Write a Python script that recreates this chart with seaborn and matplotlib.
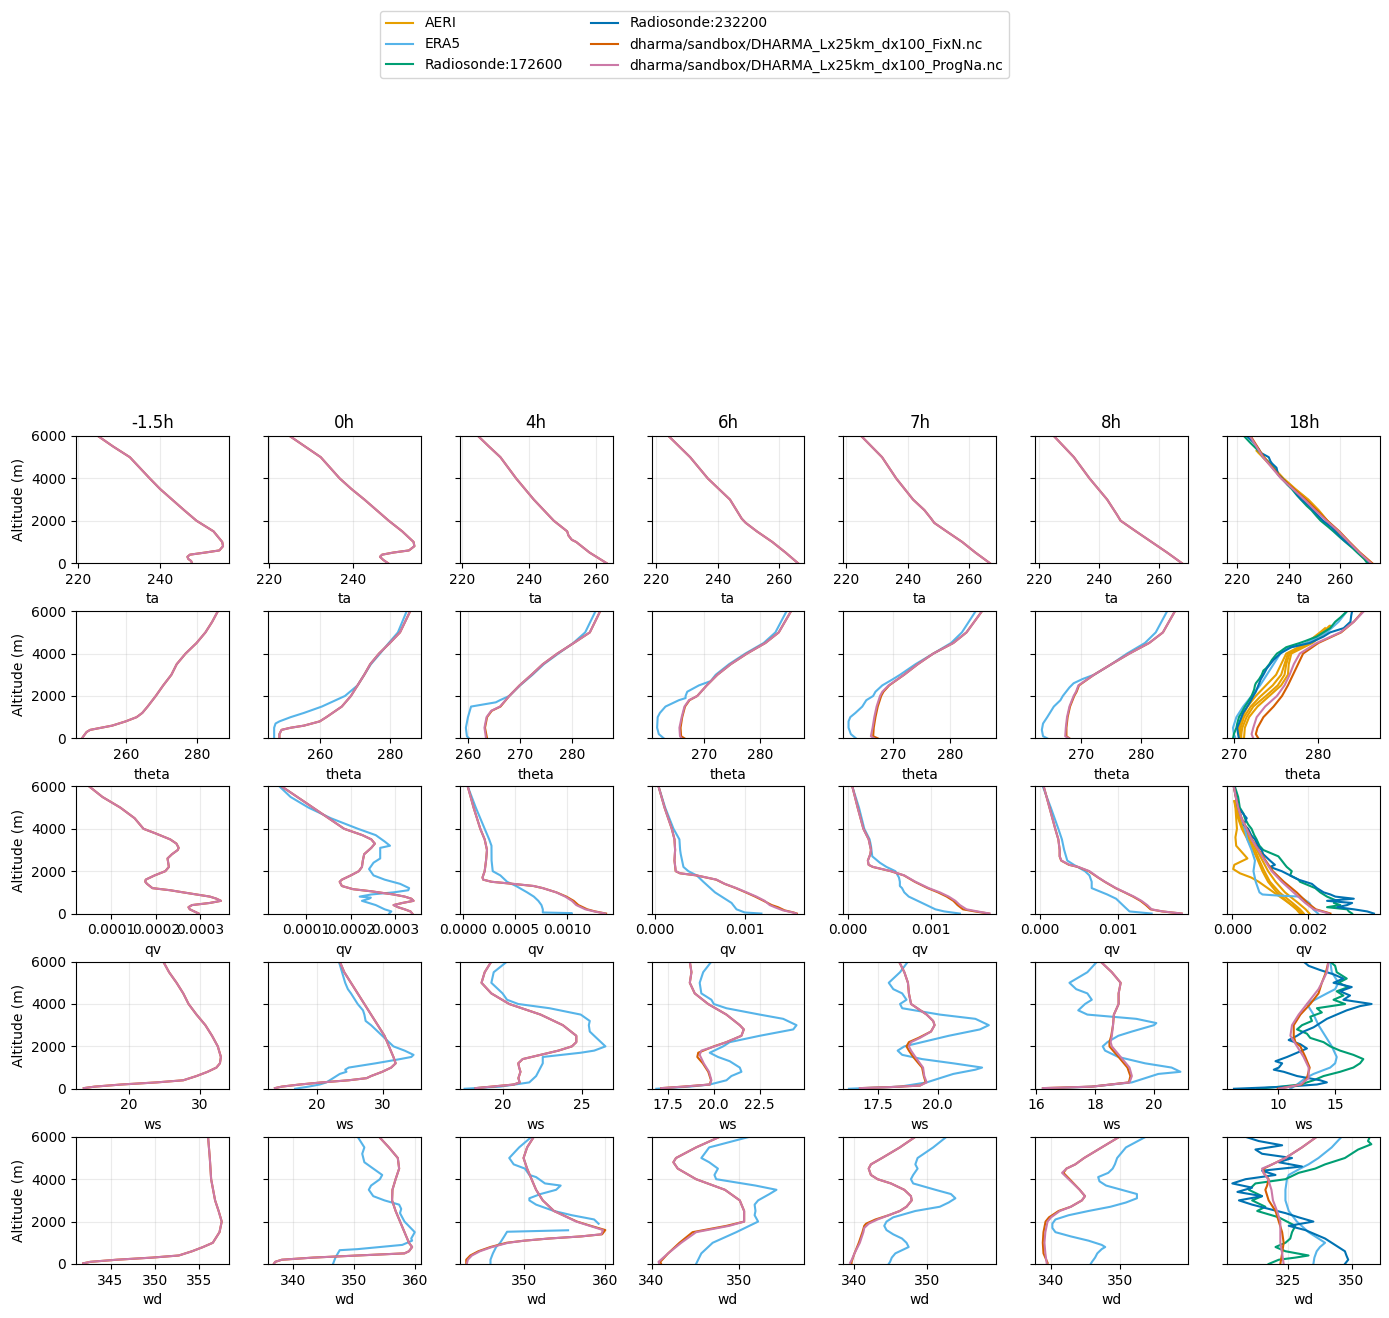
import numpy as np
import pandas as pd
import matplotlib
matplotlib.use("Agg")
import matplotlib.pyplot as plt
from matplotlib.lines import Line2D
import seaborn as sns

times = ["-1.5h", "0h", "4h", "6h", "7h", "8h", "18h"]
variables = ["ta", "theta", "qv", "ws", "wd"]
sources = ["AERI", "ERA5", "Radiosonde:172600", "Radiosonde:232200",
           "dharma/sandbox/DHARMA_Lx25km_dx100_FixN.nc",
           "dharma/sandbox/DHARMA_Lx25km_dx100_ProgNa.nc"]
colors = ["#E69F00", "#56B4E9", "#009E73", "#0072B2", "#D55E00", "#CC79A7"]

# x-limits (one per time column)
ta_xlim = [(219.6, 256.5), (219.7, 256.1), (219.2, 265.0), (218.6, 268.1),
           (219.0, 268.8), (218.8, 269.8), (216.2, 275.3)]
theta_xlim = [(245.9, 289.0), (245.1, 288.7), (258.3, 287.9), (260.6, 288.0),
              (261.3, 288.0), (262.3, 287.8), (269.2, 287.3)]
qv_xlim = [(0.0000204, 0.0003637), (0.0000136, 0.000357), (-0.00003, 0.001432),
           (-0.000041, 0.001665), (-0.0000535, 0.001786), (-0.0000629, 0.001903),
           (-0.000142, 0.003929)]
ws_xlim = [(12.5, 34.06), (12.52, 35.78), (17.29, 26.95), (16.6, 24.95),
           (16.07, 22.44), (15.97, 21.16), (5.58, 18.91)]
wd_xlim = [(341.08, 358.42), (335.8, 360.9), (341.99, 360.9), (340.0, 357.5),
           (338.47, 359.57), (337.7, 359.95), (301.05, 361.2)]

# ---- profiles: {time: [[(altitude, value), ...], ...]} ----
ta_prog = {
    "-1.5h": [[(6000, 224.9), (5500, 228.6), (5000, 232.6), (4000, 237.4), (3500, 239.9), (3000, 242.8),
               (2500, 245.7), (2000, 248.7), (1500, 252.8), (1000, 254.9), (800, 255.1), (600, 254.2),
               (500, 250.8), (400, 247.1), (300, 246.5), (200, 246.7), (100, 247.4), (0, 247.6)]],
    "0h": [[(6000, 224.9), (5500, 228.6), (5000, 232.3), (4000, 236.8), (3500, 239.6), (3000, 242.7),
            (2500, 245.6), (2000, 248.5), (1500, 251.7), (1000, 254.4), (800, 254.6), (600, 253.3),
            (500, 249.6), (400, 246.9), (300, 246.4), (150, 247.2), (0, 248.3)]],
    "4h": [[(6000, 224.7), (5500, 228.0), (5000, 231.4), (4000, 236.1), (3000, 241.4), (2000, 247.4),
            (1500, 251.4), (1300, 251.8), (1100, 252.8), (1000, 254.1), (500, 258.1), (0, 263.2)]],
    "6h": [[(6000, 224.1), (5000, 231.1), (4000, 236.8), (3000, 244.0), (2100, 247.8), (1900, 249.1),
            (1500, 252.7), (1000, 257.7), (500, 262.0), (0, 266.0)]],
    "7h": [[(6000, 224.8), (5000, 231.6), (4000, 236.2), (3000, 241.7), (2500, 245.4), (2100, 247.6),
            (1900, 248.6), (1500, 252.6), (1000, 257.7), (500, 262.0), (0, 266.7)]],
    "8h": [[(6000, 225.0), (5000, 231.7), (4000, 236.9), (3000, 242.8), (2300, 246.0), (2000, 247.3),
            (1500, 252.4), (1000, 257.6), (500, 262.8), (0, 267.7)]],
    "18h": [[(6000, 225.0), (5000, 230.1), (4000, 237.0), (3500, 241.6), (3000, 246.1), (2500, 250.2),
             (2000, 254.6), (1500, 259.3), (1000, 263.2), (500, 267.3), (0, 271.8)]],
}
ta_fixn = {t: ta_prog[t] for t in times[:-1]}
ta_fixn["18h"] = [[(6000, 225.3), (5000, 230.4), (4000, 237.3), (3500, 242.0), (3000, 246.6), (2500, 250.8),
                   (2000, 255.0), (1500, 259.6), (1000, 263.5), (500, 267.6), (0, 272.3)]]
ta_rs1 = {"18h": [[(6000, 222.7), (5700, 225.0), (5400, 227.5), (5200, 229.2), (5000, 230.1), (4800, 232.0),
                   (4600, 233.4), (4400, 234.9), (4200, 235.8), (4000, 237.3), (3700, 239.5), (3500, 241.2),
                   (3200, 243.2), (3000, 244.7), (2700, 247.0), (2500, 248.8), (2200, 250.9), (2000, 252.4),
                   (1700, 255.4), (1500, 257.3), (1200, 260.0), (1000, 261.9), (700, 264.8), (500, 266.5),
                   (200, 269.2), (0, 270.4)]]}
ta_rs2 = {"18h": [[(6000, 223.8), (5700, 226.4), (5400, 228.3), (5200, 229.3), (5000, 232.3), (4800, 233.0),
                   (4700, 233.6), (4500, 235.3), (4200, 235.9), (4000, 237.5), (3700, 239.9), (3500, 241.6),
                   (3200, 243.5), (3000, 245.0), (2700, 247.9), (2500, 249.4), (2200, 251.7), (2000, 253.3),
                   (1700, 256.5), (1500, 258.0), (1200, 260.4), (1000, 262.2), (700, 265.6), (500, 267.2),
                   (200, 270.0), (0, 271.3)]]}
ta_aeri = {"18h": [
    [(5300, 227.6), (5000, 230.0), (4500, 233.8), (4000, 237.6), (3500, 242.0), (3000, 247.0), (2500, 251.0),
     (2000, 254.6), (1500, 258.4), (1000, 262.4), (500, 266.8), (0, 271.0)],
    [(5300, 227.9), (5000, 230.4), (4500, 234.2), (4000, 238.0), (3500, 242.6), (3000, 247.6), (2500, 251.6),
     (2000, 255.0), (1500, 258.8), (1000, 262.8), (500, 267.2), (0, 271.4)],
    [(5200, 228.5), (5000, 230.2), (4500, 234.0), (4000, 237.8), (3500, 242.3), (3000, 247.3), (2500, 251.3),
     (2000, 254.8), (1500, 258.6), (1000, 262.6), (500, 267.0), (0, 271.2)],
]}

theta_prog = {
    "-1.5h": [[(6000, 285.9), (5500, 284.3), (5000, 282.4), (4500, 279.9), (4000, 276.8), (3500, 274.3),
               (3000, 272.8), (2500, 270.5), (2000, 268.4), (1500, 266.1), (1200, 264.6), (1000, 263.0),
               (800, 259.9), (600, 256.1), (500, 253.0), (400, 249.9), (300, 248.9), (100, 248.0), (0, 247.6)]],
    "0h": [[(6000, 285.7), (5000, 282.8), (4500, 279.9), (4000, 276.8), (3500, 274.3), (3000, 272.6),
            (2500, 270.7), (2000, 268.8), (1500, 266.2), (1000, 261.8), (800, 259.9), (600, 255.4),
            (500, 251.6), (400, 249.0), (200, 248.4), (0, 248.4)]],
    "4h": [[(6000, 285.5), (5000, 283.5), (4500, 280.4), (4000, 277.2), (3500, 274.4), (3000, 272.2),
            (2500, 269.9), (2000, 267.9), (1500, 266.1), (1300, 264.4), (1000, 263.5), (500, 263.1), (0, 263.4)]],
    "6h": [[(6000, 285.6), (5000, 283.4), (4500, 281.0), (4000, 277.7), (3500, 274.8), (3000, 272.4),
            (2500, 270.5), (2000, 268.8), (1800, 267.3), (1500, 266.5), (1000, 266.0), (500, 265.6),
            (100, 265.7), (0, 266.0)]],
    "7h": [[(6000, 285.5), (5000, 282.8), (4500, 280.5), (4000, 277.0), (3500, 274.3), (3000, 271.9),
            (2500, 269.2), (2200, 268.1), (2000, 267.7), (1500, 267.1), (1000, 266.7), (500, 266.4),
            (100, 266.1), (0, 266.7)]],
    "8h": [[(6000, 285.6), (5000, 283.6), (4500, 281.3), (4000, 278.0), (3500, 275.0), (3000, 272.1),
            (2500, 269.5), (2200, 269.1), (2000, 268.7), (1500, 268.0), (1000, 267.6), (500, 267.4),
            (100, 267.3), (0, 267.9)]],
    "18h": [[(6000, 285.4), (5500, 284.2), (5000, 282.6), (4500, 279.8), (4000, 277.8), (3500, 277.1),
             (3000, 276.6), (2500, 276.0), (2000, 275.1), (1500, 273.7), (1000, 272.7), (500, 272.3),
             (200, 272.1), (0, 272.3)]],
}
theta_fixn = {
    "-1.5h": theta_prog["-1.5h"], "0h": theta_prog["0h"],
    "4h": [[(6000, 285.5), (5000, 283.5), (4500, 280.4), (4000, 277.2), (3500, 274.4), (3000, 272.2),
            (2500, 269.9), (2000, 267.9), (1500, 266.2), (1300, 264.5), (1000, 263.6), (500, 263.2), (0, 263.6)]],
    "6h": [[(6000, 285.6), (5000, 283.4), (4500, 281.0), (4000, 277.7), (3500, 274.8), (3000, 272.4),
            (2500, 270.5), (2000, 268.8), (1800, 267.4), (1500, 266.6), (1000, 266.1), (500, 265.8),
            (100, 265.9), (0, 266.5)]],
    "7h": [[(6000, 285.5), (5000, 282.8), (4500, 280.5), (4000, 277.0), (3500, 274.3), (3000, 271.9),
            (2500, 269.3), (2200, 268.3), (2000, 267.9), (1500, 267.3), (1000, 266.9), (500, 266.6),
            (100, 266.5), (0, 267.3)]],
    "8h": [[(6000, 285.6), (5000, 283.6), (4500, 281.3), (4000, 278.0), (3500, 275.0), (3000, 272.1),
            (2500, 269.6), (2200, 269.2), (2000, 268.8), (1500, 268.1), (1000, 267.7), (500, 267.5),
            (100, 267.5), (0, 268.0)]],
    "18h": [[(6000, 285.3), (5500, 284.2), (5000, 282.7), (4500, 280.0), (4000, 278.2), (3500, 277.6),
             (3000, 277.0), (2500, 276.4), (2000, 275.7), (1500, 274.7), (1000, 273.5), (500, 272.8),
             (200, 272.6), (0, 272.9)]],
}
theta_era5 = {
    "0h": [[(6000, 284.7), (5000, 282.2), (4500, 279.6), (4000, 277.1), (3500, 274.5), (3000, 272.6),
            (2500, 270.7), (2000, 267.1), (1500, 260.5), (1200, 255.4), (1000, 251.6), (800, 248.4),
            (700, 247.3), (500, 246.9), (0, 246.9)]],
    "4h": [[(6000, 284.6), (5000, 282.6), (4500, 280.3), (4000, 277.4), (3500, 274.6), (3000, 272.4),
            (2500, 270.0), (2000, 267.9), (1800, 266.1), (1700, 265.3), (1500, 260.5), (1000, 259.9),
            (500, 259.5), (100, 259.7), (0, 260.1)]],
    "6h": [[(6000, 284.8), (5000, 282.8), (4500, 280.7), (4000, 277.4), (3500, 274.5), (3000, 272.1),
            (2700, 271.2), (2500, 269.1), (2200, 267.0), (2000, 266.7), (1900, 266.7), (1800, 265.5),
            (1500, 263.1), (1200, 262.1), (1000, 261.7), (500, 261.6), (200, 261.9), (0, 262.8)]],
    "7h": [[(6000, 284.4), (5000, 282.0), (4500, 280.1), (4000, 277.0), (3500, 273.9), (3000, 271.2),
            (2800, 270.0), (2500, 268.1), (2200, 266.9), (2000, 266.5), (1800, 265.3), (1500, 264.6),
            (1200, 263.4), (1000, 262.5), (800, 262.2), (500, 262.2), (200, 262.6), (0, 263.5)]],
    "8h": [[(6000, 284.3), (5000, 282.4), (4500, 280.6), (4000, 277.6), (3500, 275.0), (3000, 272.1),
            (2800, 270.2), (2600, 268.7), (2400, 268.0), (2000, 266.9), (1800, 266.5), (1500, 265.4),
            (1000, 264.3), (700, 263.6), (400, 263.4), (100, 263.6), (0, 264.3)]],
    "18h": [[(6000, 283.4), (5500, 282.4), (5000, 281.0), (4500, 278.6), (4200, 275.9), (4000, 275.5),
             (3500, 274.7), (3000, 273.9), (2500, 273.1), (2000, 272.1), (1500, 271.1), (1000, 270.3),
             (500, 269.9), (200, 270.0), (0, 270.2)]],
}
theta_rs1 = {"18h": [[(6000, 283.4), (5700, 282.6), (5500, 282.0), (5200, 281.4), (5000, 280.6), (4800, 279.8),
                      (4600, 278.5), (4500, 277.8), (4300, 276.2), (4100, 275.5), (4000, 275.1), (3800, 274.7),
                      (3700, 274.5), (3500, 274.2), (3300, 273.8), (3200, 273.5), (3000, 273.3), (2800, 273.0),
                      (2600, 272.6), (2500, 272.5), (2300, 272.4), (2000, 272.1), (1800, 271.8), (1500, 271.3),
                      (1200, 270.9), (1000, 270.6), (700, 270.4), (500, 270.3), (200, 270.0), (0, 269.9)]]}
theta_rs2 = {"18h": [[(6000, 284.0), (5800, 283.9), (5500, 283.8), (5200, 283.0), (5000, 281.4), (4800, 280.6),
                      (4500, 279.0), (4300, 276.8), (4100, 275.9), (4000, 275.5), (3700, 274.7), (3500, 274.3),
                      (3300, 273.9), (3000, 273.5), (2800, 273.2), (2500, 272.9), (2200, 272.6), (2000, 272.3),
                      (1700, 271.9), (1500, 271.6), (1200, 271.1), (1000, 270.9), (700, 270.6), (500, 270.4),
                      (200, 270.5), (0, 270.6)]]}
theta_aeri = {"18h": [
    [(5300, 281.3), (5000, 280.5), (4500, 278.9), (4000, 276.4), (3500, 276.0), (3000, 275.6), (2500, 274.6),
     (2000, 273.2), (1500, 272.0), (1000, 271.2), (500, 270.8), (0, 270.9)],
    [(5300, 281.5), (5000, 280.9), (4500, 279.3), (4000, 276.8), (3500, 276.5), (3000, 276.4), (2500, 275.6),
     (2000, 274.2), (1500, 272.8), (1000, 271.8), (500, 271.3), (0, 271.2)],
    [(5200, 280.8), (5000, 280.2), (4500, 278.6), (4000, 276.2), (3500, 275.6), (3000, 275.0), (2500, 273.8),
     (2000, 272.6), (1500, 271.6), (1000, 271.0), (500, 270.6), (0, 270.6)],
    [(5300, 281.4), (5000, 280.7), (4500, 279.1), (4000, 276.6), (3500, 276.2), (3000, 276.0), (2500, 275.2),
     (2000, 273.8), (1500, 272.3), (1000, 271.5), (500, 271.0), (0, 270.8)],
]}

qv_prog = {
    "-1.5h": [[(6000, 0.000050), (5500, 0.000080), (5000, 0.000120), (4500, 0.000152), (4000, 0.000172),
               (3800, 0.000197), (3500, 0.000232), (3300, 0.000246), (3100, 0.000251), (3000, 0.000249),
               (2800, 0.000236), (2600, 0.000226), (2200, 0.000229), (2000, 0.000221), (1800, 0.000197),
               (1600, 0.000177), (1500, 0.000176), (1400, 0.000180), (1200, 0.000192), (1100, 0.000232),
               (1000, 0.000261), (900, 0.000291), (800, 0.000321), (700, 0.000336), (600, 0.000346),
               (500, 0.000321), (400, 0.000281), (300, 0.000273), (200, 0.000276), (100, 0.000286),
               (0, 0.000296)]],
    "0h": [[(6000, 0.0000447), (5500, 0.0000799), (5000, 0.000115), (4500, 0.000150), (4000, 0.000185),
            (3700, 0.000226), (3500, 0.000246), (3300, 0.000254), (3100, 0.000246), (2800, 0.000230),
            (2500, 0.000227), (2200, 0.000225), (2000, 0.000218), (1800, 0.000200), (1600, 0.000180),
            (1500, 0.000175), (1300, 0.000180), (1150, 0.000205), (1050, 0.000246), (900, 0.000296),
            (800, 0.000321), (700, 0.000336), (600, 0.000341), (500, 0.000316), (400, 0.000296),
            (300, 0.000306), (200, 0.000321), (100, 0.000334), (0, 0.000338)]],
    "4h": [[(6000, 0.000047), (5000, 0.000103), (4000, 0.000167), (3500, 0.000209), (3000, 0.000231),
            (2500, 0.000222), (2000, 0.000209), (1700, 0.000188), (1600, 0.000195), (1500, 0.000274),
            (1400, 0.000487), (1300, 0.000679), (1200, 0.000765), (1000, 0.000893), (800, 0.000979),
            (600, 0.001043), (400, 0.001085), (200, 0.001171), (100, 0.001256), (0, 0.001363)]],
    "6h": [[(6000, 0.000037), (5000, 0.000104), (4000, 0.000185), (3500, 0.000215), (3000, 0.000222),
            (2500, 0.000215), (2000, 0.000230), (1900, 0.000278), (1800, 0.000463), (1600, 0.000685),
            (1400, 0.000778), (1200, 0.000907), (1000, 0.001019), (800, 0.001130), (600, 0.001222),
            (400, 0.001278), (300, 0.001333), (150, 0.001426), (50, 0.001537), (0, 0.001574)]],
    "7h": [[(6000, 0.0000535), (5000, 0.000118), (4000, 0.000187), (3500, 0.000251), (3000, 0.000278),
            (2800, 0.000270), (2500, 0.000241), (2300, 0.000250), (2200, 0.000305), (2000, 0.000519),
            (1800, 0.000679), (1500, 0.000813), (1200, 0.000973), (1000, 0.001107), (800, 0.001214),
            (600, 0.001294), (400, 0.001348), (200, 0.001428), (100, 0.001561), (0, 0.001706)]],
    "8h": [[(6000, 0.0000457), (5000, 0.000120), (4000, 0.000194), (3500, 0.000234), (3000, 0.000251),
            (2700, 0.000251), (2500, 0.000274), (2300, 0.000377), (2200, 0.000491), (2000, 0.000634),
            (1700, 0.000749), (1500, 0.000834), (1200, 0.000977), (1000, 0.001091), (800, 0.001206),
            (600, 0.001303), (400, 0.001377), (200, 0.001434), (100, 0.001577), (0, 0.001823)]],
    "18h": [[(6000, 0.0000357), (5500, 0.0000893), (5000, 0.000152), (4500, 0.000241), (4000, 0.000375),
             (3500, 0.000509), (3000, 0.000688), (2500, 0.000866), (2000, 0.001045), (1500, 0.001313),
             (1000, 0.001625), (500, 0.001938), (200, 0.002161), (50, 0.002473), (0, 0.002563)]],
}
qv_fixn = {
    "-1.5h": qv_prog["-1.5h"], "0h": qv_prog["0h"],
    "4h": [[(6000, 0.000047), (5000, 0.000103), (4000, 0.000167), (3500, 0.000209), (3000, 0.000231),
            (2500, 0.000222), (2000, 0.000209), (1700, 0.000188), (1600, 0.000195), (1500, 0.000274),
            (1400, 0.000480), (1300, 0.000675), (1200, 0.000765), (1000, 0.000895), (800, 0.000990),
            (600, 0.001060), (400, 0.001105), (200, 0.001190), (100, 0.001265), (0, 0.001370)]],
    "6h": [[(6000, 0.000037), (5000, 0.000104), (4000, 0.000185), (3500, 0.000215), (3000, 0.000222),
            (2500, 0.000215), (2000, 0.000228), (1900, 0.000275), (1800, 0.000460), (1600, 0.000680),
            (1400, 0.000775), (1200, 0.000900), (1000, 0.001010), (800, 0.001115), (600, 0.001210),
            (400, 0.001300), (300, 0.001370), (150, 0.001445), (50, 0.001545), (0, 0.001580)]],
    "7h": [[(6000, 0.0000535), (5000, 0.000118), (4000, 0.000187), (3500, 0.000251), (3000, 0.000278),
            (2800, 0.000270), (2500, 0.000241), (2300, 0.000250), (2200, 0.000300), (2000, 0.000515),
            (1800, 0.000675), (1500, 0.000805), (1200, 0.000960), (1000, 0.001085), (800, 0.001190),
            (600, 0.001270), (400, 0.001320), (200, 0.001385), (100, 0.001530), (0, 0.001700)]],
    "8h": [[(6000, 0.0000457), (5000, 0.000120), (4000, 0.000194), (3500, 0.000234), (3000, 0.000251),
            (2700, 0.000251), (2500, 0.000270), (2300, 0.000370), (2200, 0.000485), (2000, 0.000625),
            (1700, 0.000745), (1500, 0.000830), (1200, 0.000970), (1000, 0.001085), (800, 0.001195),
            (600, 0.001290), (400, 0.001360), (200, 0.001420), (100, 0.001570), (0, 0.001820)]],
    "18h": [[(6000, 0.0000357), (5500, 0.0000893), (5000, 0.000152), (4500, 0.000245), (4000, 0.000380),
             (3500, 0.000520), (3000, 0.000700), (2500, 0.000885), (2000, 0.001075), (1500, 0.001370),
             (1000, 0.001710), (500, 0.002000), (200, 0.002220), (50, 0.002520), (0, 0.002610)]],
}
qv_era5 = {
    "0h": [[(6000, 0.0000397), (5500, 0.0000648), (5000, 0.000105), (4500, 0.000155), (4000, 0.000216),
            (3700, 0.000256), (3400, 0.000276), (3200, 0.000288), (3100, 0.000266), (2900, 0.000266),
            (2600, 0.000266), (2400, 0.000251), (2100, 0.000241), (1800, 0.000251), (1600, 0.000276),
            (1400, 0.000311), (1200, 0.000331), (1100, 0.000329), (1000, 0.000296), (900, 0.000246),
            (800, 0.000220), (750, 0.000245), (700, 0.000241), (600, 0.000225), (400, 0.000256),
            (200, 0.000276), (100, 0.000291), (0, 0.000286)]],
    "4h": [[(6000, 0.000047), (5000, 0.000124), (4000, 0.000209), (3500, 0.000252), (3200, 0.000274),
            (2500, 0.000275), (2000, 0.000286), (1800, 0.000359), (1600, 0.000402), (1500, 0.000423),
            (1300, 0.000509), (1000, 0.000615), (800, 0.000679), (600, 0.000722), (400, 0.000752),
            (200, 0.000765), (50, 0.000765), (20, 0.001043), (0, 0.001043)]],
    "6h": [[(6000, 0.000037), (5000, 0.000111), (4000, 0.000204), (3500, 0.000270), (3000, 0.000278),
            (2800, 0.000285), (2200, 0.000315), (2000, 0.000370), (1800, 0.000463), (1500, 0.000537),
            (1000, 0.000667), (600, 0.000815), (500, 0.000852), (400, 0.000870), (200, 0.000907),
            (50, 0.001000), (0, 0.001185)]],
    "7h": [[(6000, 0.0000535), (5000, 0.000134), (4000, 0.000198), (3500, 0.000262), (3200, 0.000278),
            (2700, 0.000294), (2400, 0.000385), (2200, 0.000465), (2000, 0.000572), (1700, 0.000615),
            (1500, 0.000626), (1300, 0.000626), (1200, 0.000652), (1000, 0.000679), (800, 0.000733),
            (600, 0.000840), (400, 0.000947), (200, 0.001053), (100, 0.001160), (0, 0.001348)]],
    "8h": [[(6000, 0.000034), (5000, 0.000137), (4000, 0.000234), (3500, 0.000280), (3000, 0.000309),
            (2500, 0.000349), (2300, 0.000434), (2000, 0.000577), (1800, 0.000634), (1500, 0.000663),
            (1200, 0.000663), (900, 0.000863), (700, 0.000977), (500, 0.001034), (300, 0.001091),
            (100, 0.001149), (0, 0.001434)]],
    "18h": [[(6000, 0.0000357), (5000, 0.000152), (4000, 0.000330), (3500, 0.000393), (3000, 0.000509),
             (2500, 0.000600), (2000, 0.000560), (1500, 0.000620), (1200, 0.000680), (1000, 0.000720),
             (900, 0.000800), (850, 0.001200), (800, 0.001800), (500, 0.002050), (200, 0.002150),
             (0, 0.002280)]],
}
qv_rs1 = {"18h": [[(6000, 0.000063), (5500, 0.000152), (5000, 0.000196), (4700, 0.000300), (4500, 0.000330),
                   (4200, 0.000420), (4000, 0.000509), (3700, 0.000580), (3500, 0.000643), (3200, 0.000720),
                   (3000, 0.000821), (2800, 0.001089), (2700, 0.001223), (2500, 0.001313), (2300, 0.001400),
                   (2200, 0.001446), (2000, 0.001580), (1800, 0.001536), (1600, 0.001759), (1500, 0.001800),
                   (1300, 0.002071), (1200, 0.002205), (1000, 0.002339), (800, 0.002518), (600, 0.002786),
                   (500, 0.002700), (400, 0.002875), (300, 0.002520), (200, 0.003054), (100, 0.003100),
                   (0, 0.003188)]]}
qv_rs2 = {"18h": [[(6000, 0.000040), (5500, 0.000100), (5000, 0.000152), (4500, 0.000380), (4200, 0.000300),
                   (4000, 0.000420), (3700, 0.000500), (3500, 0.000598), (3200, 0.000680), (3000, 0.000777),
                   (2800, 0.000820), (2500, 0.001000), (2300, 0.001130), (2200, 0.001000), (2000, 0.001313),
                   (1800, 0.001536), (1600, 0.001759), (1400, 0.002116), (1200, 0.002250), (1000, 0.002429),
                   (900, 0.002610), (800, 0.002741), (700, 0.003232), (600, 0.002520), (500, 0.003188),
                   (400, 0.003054), (300, 0.002790), (200, 0.003232), (100, 0.003590), (0, 0.003768)]]}
qv_aeri = {"18h": [
    [(5300, 0.00006), (5000, 0.00009), (4500, 0.00018), (4000, 0.00030), (3500, 0.00045), (3000, 0.00060),
     (2500, 0.00072), (2000, 0.00085), (1500, 0.00100), (1000, 0.00125), (500, 0.00160), (200, 0.00180),
     (0, 0.00190)],
    [(5300, 0.00005), (5000, 0.00008), (4500, 0.00010), (4000, 0.00012), (3600, 0.00008), (3200, 0.00010),
     (3000, 0.00020), (2600, 0.00040), (2300, 0.00005), (2100, 0.00002), (1900, 0.00020), (1700, 0.00050),
     (1500, 0.00070), (1000, 0.00110), (500, 0.00150), (200, 0.00175), (0, 0.00185)],
    [(5300, 0.00007), (5000, 0.00012), (4500, 0.00022), (4000, 0.00035), (3500, 0.00050), (3000, 0.00065),
     (2500, 0.00080), (2000, 0.00095), (1500, 0.00115), (1000, 0.00140), (500, 0.00175), (200, 0.00195),
     (0, 0.00205)],
    [(5300, 0.00006), (5000, 0.00010), (4500, 0.00015), (4000, 0.00025), (3500, 0.00040), (3000, 0.00055),
     (2500, 0.00068), (2000, 0.00080), (1500, 0.00095), (1000, 0.00118), (500, 0.00150), (200, 0.00170),
     (0, 0.00180)],
]}

ws_prog = {
    "-1.5h": [[(6000, 24.81), (5500, 25.63), (5000, 26.69), (4500, 27.63), (4000, 28.38), (3500, 29.5),
               (3000, 30.75), (2500, 31.69), (2000, 32.5), (1500, 32.94), (1200, 32.8), (1000, 32.31),
               (800, 31.06), (600, 29.5), (400, 27.63), (300, 23.88), (200, 18.88), (100, 15.13), (30, 13.6)]],
    "0h": [[(6000, 23.47), (5500, 24.15), (5000, 25.17), (4500, 26.19), (4000, 27.21), (3500, 28.23),
            (3000, 29.25), (2500, 30.27), (2000, 30.95), (1500, 31.63), (1200, 31.97), (1000, 31.29),
            (800, 29.93), (600, 28.23), (500, 27.55), (400, 24.83), (300, 20.75), (200, 17.35),
            (100, 14.63), (30, 13.6)]],
    "4h": [[(6000, 19.29), (5500, 18.87), (5000, 18.67), (4500, 19.29), (4000, 20.42), (3500, 22.4),
            (3000, 23.81), (2500, 24.66), (2200, 24.66), (2000, 24.38), (1800, 23.53), (1600, 22.4),
            (1400, 21.27), (1200, 20.99), (1000, 21.05), (800, 21.13), (500, 21.0), (300, 21.08),
            (200, 20.71), (100, 19.29), (30, 18.3)]],
    "6h": [[(6000, 18.69), (5500, 18.78), (5000, 18.69), (4500, 18.96), (4000, 19.69), (3500, 20.69),
            (3000, 21.42), (2800, 21.64), (2500, 21.51), (2200, 20.69), (2000, 20.05), (1800, 19.32),
            (1600, 19.23), (1200, 19.45), (800, 19.74), (400, 19.87), (200, 19.78), (100, 18.32), (30, 17.13)]],
    "7h": [[(6000, 18.39), (5500, 18.61), (5000, 18.76), (4500, 18.8), (4000, 18.89), (3500, 19.54),
            (3200, 19.81), (3000, 19.87), (2700, 19.72), (2400, 19.26), (2200, 18.89), (2000, 18.8),
            (1800, 18.89), (1500, 19.07), (1200, 19.26), (1000, 19.39), (600, 19.44), (300, 19.54),
            (150, 19.26), (80, 18.06), (30, 16.76)]],
    "8h": [[(6000, 18.19), (5500, 18.57), (5000, 18.87), (4500, 18.8), (4000, 18.8), (3500, 18.64),
            (3000, 18.61), (2500, 18.57), (2200, 18.53), (2000, 18.57), (1500, 18.87), (1000, 19.17),
            (600, 19.25), (300, 19.17), (100, 17.89), (30, 16.23)]],
    "18h": [[(6000, 14.42), (5500, 14.28), (5000, 13.84), (4700, 13.55), (4500, 13.26), (4000, 12.54),
             (3500, 11.82), (3000, 11.24), (2500, 11.1), (2000, 11.68), (1500, 12.25), (1000, 12.69),
             (500, 12.69), (200, 11.97), (100, 11.1), (0, 10.09)]],
}
ws_fixn = {
    "-1.5h": ws_prog["-1.5h"], "0h": ws_prog["0h"], "4h": ws_prog["4h"],
    "6h": [[(6000, 18.69), (5500, 18.78), (5000, 18.69), (4500, 18.96), (4000, 19.69), (3500, 20.69),
            (3000, 21.42), (2800, 21.64), (2500, 21.51), (2200, 20.69), (2000, 20.0), (1700, 19.15),
            (1500, 19.1), (1200, 19.4), (800, 19.7), (400, 19.85), (200, 19.78), (100, 18.32), (30, 17.13)]],
    "7h": [[(6000, 18.39), (5500, 18.61), (5000, 18.76), (4500, 18.8), (4000, 18.89), (3500, 19.54),
            (3200, 19.81), (3000, 19.87), (2700, 19.72), (2400, 19.2), (2200, 18.8), (2000, 18.7),
            (1800, 18.8), (1500, 18.98), (1200, 19.2), (1000, 19.35), (600, 19.42), (300, 19.5),
            (150, 19.26), (80, 18.06), (30, 16.76)]],
    "8h": [[(6000, 18.19), (5500, 18.57), (5000, 18.87), (4500, 18.8), (4000, 18.8), (3500, 18.64),
            (3000, 18.61), (2500, 18.55), (2200, 18.49), (2000, 18.49), (1800, 18.61), (1500, 18.8),
            (1000, 19.1), (600, 19.2), (300, 19.15), (100, 17.89), (30, 16.23)]],
    "18h": [[(6000, 14.42), (5500, 14.2), (5000, 13.84), (4500, 13.55), (4000, 12.83), (3500, 11.97),
             (3000, 11.39), (2500, 11.39), (2200, 11.53), (2000, 11.97), (1500, 12.4), (1000, 12.78),
             (500, 12.54), (200, 12.1), (0, 10.0)]],
}
ws_era5 = {
    "0h": [[(6000, 23.33), (5500, 23.81), (5000, 24.29), (4700, 24.7), (4500, 25.17), (4000, 26.19),
            (3700, 27.0), (3500, 27.21), (3200, 27.4), (3000, 28.23), (2500, 29.93), (2000, 31.63),
            (1800, 33.33), (1600, 34.69), (1500, 34.35), (1400, 32.65), (1200, 28.91), (1000, 24.83),
            (900, 24.29), (800, 24.49), (700, 23.47), (500, 22.45), (300, 21.43), (200, 20.41),
            (100, 18.7), (0, 16.67)]],
    "4h": [[(6000, 20.28), (5500, 19.44), (5000, 19.29), (4500, 20.0), (4200, 20.28), (4000, 20.99),
            (3800, 22.97), (3500, 24.94), (3200, 25.51), (3000, 25.45), (2700, 25.51), (2500, 25.79),
            (2000, 26.5), (1800, 25.79), (1700, 24.94), (1500, 22.54), (1200, 22.54), (1000, 22.4),
            (600, 22.12), (300, 21.69), (100, 19.86), (0, 17.6)]],
    "6h": [[(6000, 19.87), (5500, 19.42), (5000, 19.23), (4500, 19.32), (4200, 19.87), (4000, 20.0),
            (3800, 20.69), (3500, 22.51), (3300, 23.79), (3000, 24.52), (2800, 24.34), (2500, 22.51),
            (2200, 20.87), (2000, 20.51), (1700, 19.78), (1500, 20.23), (1300, 20.87), (1000, 21.42),
            (800, 21.51), (600, 20.96), (400, 20.69), (200, 19.78), (100, 18.69), (0, 16.86)]],
    "7h": [[(6000, 18.76), (5500, 18.43), (5000, 17.96), (4700, 18.15), (4500, 18.52), (4200, 18.7),
            (4000, 18.43), (3800, 18.52), (3500, 20.09), (3300, 21.57), (3000, 22.13), (2800, 21.76),
            (2500, 20.46), (2200, 19.35), (2000, 18.61), (1800, 18.33), (1600, 18.52), (1400, 19.35),
            (1200, 20.65), (1000, 21.85), (900, 21.57), (700, 20.65), (500, 20.09), (300, 19.54),
            (100, 18.43), (0, 16.3)]],
    "8h": [[(6000, 18.07), (5500, 17.74), (5000, 17.13), (4700, 17.36), (4500, 17.74), (4200, 17.89),
            (4000, 17.66), (3700, 17.43), (3500, 17.74), (3300, 19.4), (3100, 20.08), (3000, 20.0),
            (2700, 19.25), (2500, 18.79), (2200, 18.42), (2000, 18.26), (1800, 18.34), (1500, 18.79),
            (1200, 19.7), (1000, 20.6), (800, 20.9), (700, 20.15), (500, 19.7), (300, 19.25),
            (100, 17.89), (0, 16.23)]],
    "18h": [[(6000, 14.57), (5500, 14.71), (5000, 15.29), (4700, 15.0), (4500, 14.28), (4000, 12.54),
             (3500, 13.12), (3000, 13.55), (2500, 14.13), (2000, 14.71), (1500, 15.14), (1200, 15.0),
             (1000, 14.57), (700, 13.12), (500, 12.4), (200, 11.68), (0, 11.1)]],
}
ws_rs1 = {"18h": [[(6000, 14.57), (5800, 15.0), (5500, 15.14), (5200, 16.01), (5000, 15.29), (4800, 16.16),
                   (4600, 15.14), (4400, 15.72), (4200, 14.86), (4000, 15.87), (3800, 13.41), (3600, 13.84),
                   (3400, 12.83), (3200, 12.98), (3000, 12.11), (2800, 11.68), (2600, 12.54), (2400, 12.83),
                   (2200, 13.99), (2000, 14.57), (1800, 15.43), (1600, 16.59), (1400, 17.46), (1200, 17.17),
                   (1000, 16.59), (800, 15.43), (600, 13.99), (400, 13.12), (300, 12.54), (200, 11.97),
                   (100, 10.23), (0, 8.21)]]}
ws_rs2 = {"18h": [[(6000, 12.25), (5800, 12.69), (5600, 13.7), (5400, 14.86), (5200, 15.72), (5000, 14.86),
                   (4800, 16.45), (4600, 15.43), (4400, 16.3), (4200, 15.72), (4000, 18.18), (3900, 17.17),
                   (3700, 16.01), (3500, 15.14), (3300, 14.28), (3100, 13.7), (2900, 13.12), (2700, 12.25),
                   (2500, 11.68), (2300, 10.95), (2100, 11.97), (1900, 12.54), (1700, 11.68), (1500, 10.81),
                   (1300, 9.8), (1200, 10.38), (1000, 10.09), (900, 9.65), (800, 10.52), (600, 11.68),
                   (400, 13.7), (300, 14.28), (200, 13.41), (100, 10.81), (0, 6.18)]]}

wd_prog = {
    "-1.5h": [[(6000, 356.06), (5000, 356.26), (4000, 356.41), (3000, 356.86), (2500, 357.26), (2000, 357.61),
               (1500, 357.36), (1000, 356.6), (800, 355.5), (600, 354.25), (400, 352.74), (300, 349.72),
               (200, 345.7), (100, 342.7), (30, 341.9)]],
    "0h": [[(6000, 354.07), (5500, 355.68), (5000, 357.14), (4500, 357.36), (4000, 356.78), (3500, 356.26),
            (3000, 356.2), (2500, 356.78), (2000, 357.51), (1500, 358.24), (1000, 358.97), (800, 359.49),
            (600, 358.97), (500, 358.24), (400, 350.55), (300, 343.22), (200, 338.1), (100, 337.0),
            (0, 336.78)]],
    "4h": [[(6000, 351.16), (5500, 350.33), (5000, 349.89), (4500, 350.33), (4000, 350.88), (3500, 351.44),
            (3000, 352.27), (2500, 353.65), (2000, 356.41), (1800, 358.07), (1600, 359.72), (1400, 359.5),
            (1300, 357.0), (1200, 353.0), (1100, 350.0), (1000, 348.0), (800, 346.0), (600, 344.5),
            (400, 343.5), (200, 343.0), (50, 342.9)]],
    "6h": [[(6000, 347.8), (5500, 345.1), (5000, 342.8), (4800, 342.5), (4500, 343.0), (4000, 345.1),
            (3500, 348.4), (3000, 350.1), (2500, 350.6), (2000, 350.6), (1800, 348.9), (1500, 345.1),
            (1000, 343.4), (500, 341.9), (100, 340.8), (0, 340.9)]],
    "7h": [[(6000, 348.4), (5500, 346.26), (5000, 343.8), (4700, 342.27), (4500, 341.96), (4200, 342.27),
            (4000, 343.19), (3800, 345.03), (3500, 346.87), (3200, 347.79), (3000, 347.9), (2700, 347.18),
            (2500, 346.26), (2300, 344.72), (2100, 343.19), (1900, 341.96), (1700, 341.35), (1500, 341.23),
            (1000, 340.74), (500, 340.0), (200, 339.63), (50, 339.39)]],
    "8h": [[(6000, 349.94), (5500, 347.37), (5000, 344.81), (4700, 343.53), (4500, 342.24), (4300, 341.6),
            (4000, 342.56), (3500, 344.17), (3200, 344.94), (3000, 344.49), (2700, 342.88), (2500, 341.28),
            (2200, 340.0), (2000, 339.49), (1500, 339.17), (1000, 339.04), (500, 339.17), (50, 339.36)]],
    "18h": [[(6000, 336.3), (5500, 330.5), (5000, 324.0), (4700, 318.8), (4500, 314.8), (4300, 315.4),
             (4000, 317.2), (3500, 318.5), (3000, 319.1), (2500, 320.7), (2000, 322.0), (1500, 322.0),
             (1000, 322.0), (500, 322.7), (0, 323.3)]],
}
wd_fixn = {
    "-1.5h": wd_prog["-1.5h"], "0h": wd_prog["0h"],
    "4h": [[(6000, 351.16), (5500, 350.33), (5000, 349.89), (4500, 350.33), (4000, 350.88), (3500, 351.44),
            (3000, 352.27), (2500, 353.65), (2000, 356.5), (1800, 358.2), (1600, 360.0), (1400, 359.6),
            (1300, 357.0), (1200, 353.0), (1100, 350.0), (1000, 347.8), (800, 345.8), (600, 344.3),
            (400, 343.3), (200, 342.8), (50, 342.8)]],
    "6h": [[(6000, 347.8), (5500, 345.1), (5000, 342.8), (4800, 342.5), (4500, 343.0), (4000, 345.1),
            (3500, 348.4), (3000, 350.1), (2500, 350.6), (2000, 350.6), (1800, 348.6), (1500, 344.7),
            (1000, 343.2), (500, 341.9), (100, 341.0), (0, 341.1)]],
    "7h": [[(6000, 348.4), (5500, 346.26), (5000, 343.8), (4700, 342.27), (4500, 341.96), (4200, 342.27),
            (4000, 343.19), (3800, 345.03), (3500, 346.87), (3200, 347.79), (3000, 347.9), (2700, 347.18),
            (2500, 346.26), (2300, 344.72), (2100, 342.9), (1900, 341.6), (1800, 341.35), (1500, 341.1),
            (1000, 340.6), (500, 340.0), (100, 339.6), (50, 339.6)]],
    "8h": [[(6000, 349.94), (5500, 347.37), (5000, 344.81), (4700, 343.53), (4500, 342.24), (4300, 341.8),
            (4000, 342.7), (3500, 344.17), (3200, 344.94), (3000, 344.49), (2700, 342.88), (2500, 341.1),
            (2200, 339.7), (2000, 339.2), (1500, 338.9), (1000, 338.8), (500, 338.9), (50, 339.5)]],
    "18h": [[(6000, 336.3), (5500, 330.5), (5000, 324.0), (4700, 318.8), (4500, 315.4), (4300, 315.4),
             (4000, 317.4), (3700, 316.8), (3500, 316.1), (3000, 317.4), (2500, 320.1), (2000, 321.4),
             (1500, 322.7), (1000, 323.3), (500, 322.7), (0, 322.0)]],
}
wd_era5 = {
    "0h": [[(6000, 350.55), (5500, 351.65), (5200, 351.3), (4800, 351.65), (4500, 353.11), (4200, 354.58),
            (4000, 354.2), (3700, 352.75), (3500, 352.38), (3200, 353.11), (3000, 354.95), (2800, 357.36),
            (2600, 357.7), (2400, 357.5), (2000, 358.24), (1500, 359.93), (1200, 359.34), (1100, 359.49),
            (900, 357.88), (800, 354.22), (700, 350.55), (650, 347.6), (500, 347.3), (300, 346.9),
            (0, 346.5)]],
    # two pieces: the profile leaves the axis near 360 degrees
    "4h": [[(6000, 350.88), (5500, 349.34), (5000, 348.12), (4700, 348.67), (4500, 350.06), (4200, 350.61),
            (4100, 351.44), (3800, 352.54), (3700, 354.48), (3500, 353.92), (3300, 351.99), (3100, 350.61),
            (3000, 350.61), (2800, 351.44), (2500, 353.65), (2300, 355.86), (2100, 358.62), (1900, 359.17)],
           [(1590, 355.4), (1520, 347.85), (1300, 347.5), (1000, 347.0), (800, 346.5), (500, 346.1),
            (200, 345.8), (0, 345.8)]],
    "6h": [[(6000, 351.2), (5500, 346.6), (5000, 345.7), (4800, 346.6), (4500, 347.6), (4200, 347.2),
            (4000, 347.4), (3700, 351.9), (3500, 354.3), (3300, 353.5), (3000, 352.2), (2800, 351.8),
            (2500, 351.9), (2300, 351.8), (2000, 352.2), (1800, 351.2), (1500, 349.7), (1000, 347.0),
            (500, 345.7), (0, 345.1)]],
    "7h": [[(6000, 352.7), (5500, 350.86), (5000, 348.71), (4700, 348.4), (4500, 348.71), (4200, 348.1),
            (4000, 347.79), (3800, 348.1), (3500, 351.17), (3300, 353.31), (3100, 353.93), (2900, 353.0),
            (2700, 351.78), (2500, 348.4), (2200, 345.34), (2000, 344.42), (1800, 344.11), (1600, 344.42),
            (1400, 345.34), (1200, 346.56), (1000, 347.18), (800, 347.48), (700, 346.87), (500, 345.64),
            (300, 345.15), (100, 344.91), (0, 344.72)]],
    "8h": [[(6000, 353.78), (5500, 350.9), (5000, 349.62), (4700, 349.29), (4500, 348.97), (4300, 348.33),
            (4100, 346.86), (3900, 347.05), (3700, 348.01), (3500, 350.26), (3300, 352.5), (3100, 352.5),
            (2900, 350.9), (2700, 348.65), (2500, 345.45), (2300, 342.56), (2100, 340.64), (1900, 340.19),
            (1700, 340.19), (1500, 340.64), (1300, 342.88), (1100, 345.45), (900, 347.37), (800, 347.88),
            (700, 347.37), (500, 346.73), (300, 346.41), (100, 345.96), (0, 345.77)]],
    "18h": [[(6000, 346.1), (5500, 342.2), (5000, 337.0), (4700, 333.1), (4500, 329.8), (4200, 325.3),
             (4000, 324.6), (3500, 324.0), (3000, 324.0), (2500, 325.3), (2000, 328.5), (1500, 333.1),
             (1200, 337.0), (1000, 339.6), (800, 337.6), (600, 336.3), (300, 335.4), (0, 335.0)]],
}
wd_rs1 = {"18h": [[(6000, 357.2), (5800, 356.5), (5650, 357.8), (5400, 352.6), (5000, 347.4), (4700, 339.6),
                   (4500, 335.7), (4300, 329.2), (4000, 324.0), (3800, 312.2), (3500, 309.6), (3200, 314.8),
                   (3000, 310.9), (2700, 316.1), (2500, 312.9), (2200, 321.4), (2000, 324.6), (1800, 327.9),
                   (1500, 326.6), (1200, 325.9), (1000, 324.0), (800, 320.1), (600, 324.0), (400, 333.1),
                   (300, 327.9), (200, 321.4), (0, 317.4)]]}
wd_rs2 = {"18h": [[(6000, 308.3), (5800, 313.5), (5600, 322.7), (5400, 312.2), (5200, 314.8), (5000, 326.6),
                   (4800, 321.4), (4600, 330.5), (4400, 314.8), (4200, 320.1), (4000, 308.3), (3800, 303.1),
                   (3600, 310.9), (3400, 305.1), (3200, 314.8), (3000, 305.7), (2800, 310.9), (2600, 317.4),
                   (2400, 324.0), (2200, 329.2), (2000, 335.0), (1800, 325.3), (1600, 331.8), (1400, 335.7),
                   (1200, 339.6), (1000, 342.2), (800, 344.8), (600, 347.4), (400, 348.0), (200, 348.7),
                   (0, 347.4)]]}

tables = [
    ("ta", "AERI", ta_aeri), ("ta", sources[2], ta_rs1), ("ta", sources[3], ta_rs2),
    ("ta", sources[4], ta_fixn), ("ta", sources[5], ta_prog),
    ("theta", "AERI", theta_aeri), ("theta", "ERA5", theta_era5), ("theta", sources[2], theta_rs1),
    ("theta", sources[3], theta_rs2), ("theta", sources[4], theta_fixn), ("theta", sources[5], theta_prog),
    ("qv", "AERI", qv_aeri), ("qv", "ERA5", qv_era5), ("qv", sources[2], qv_rs1),
    ("qv", sources[3], qv_rs2), ("qv", sources[4], qv_fixn), ("qv", sources[5], qv_prog),
    ("ws", "ERA5", ws_era5), ("ws", sources[2], ws_rs1), ("ws", sources[3], ws_rs2),
    ("ws", sources[4], ws_fixn), ("ws", sources[5], ws_prog),
    ("wd", "ERA5", wd_era5), ("wd", sources[2], wd_rs1), ("wd", sources[3], wd_rs2),
    ("wd", sources[4], wd_fixn), ("wd", sources[5], wd_prog),
]
xlims = {"ta": ta_xlim, "theta": theta_xlim, "qv": qv_xlim, "ws": ws_xlim, "wd": wd_xlim}

records = []
for var, src, table in tables:
    for t, profiles in table.items():
        for k, prof in enumerate(profiles):
            for z, v in prof:
                records.append({"var": var, "source": src, "time": t, "profile": k,
                                "z": z, "value": v})
df = pd.DataFrame(records)

fig, axes = plt.subplots(5, 7, figsize=(13.89, 13.18), sharey=True)
fig.subplots_adjust(left=0.0547, right=0.9935, top=0.6692, bottom=0.041,
                    wspace=0.255, hspace=0.378)

for i, var in enumerate(variables):
    for j, t in enumerate(times):
        ax = axes[i, j]
        sub = df[(df["var"] == var) & (df["time"] == t)]
        for src, col in zip(sources, colors):
            s = sub[sub["source"] == src]
            if s.empty:
                continue
            sns.lineplot(data=s, x="value", y="z", units="profile", estimator=None,
                         sort=False, orient="y", color=col, lw=1.5, ax=ax, legend=False)
        ax.set_xlim(*xlims[var][j])
        ax.set_ylim(0, 6000)
        ax.set_xlabel(var)
        ax.set_ylabel("Altitude (m)" if j == 0 else "")
        ax.grid(True, alpha=0.25)
        if i == 0:
            ax.set_title(t)

handles = [Line2D([0], [0], color=c, lw=1.5) for c in colors]
fig.legend(handles, sources, loc="upper center", ncol=2, bbox_to_anchor=(0.5, 0.997))

fig.savefig("out.png", dpi=100)
